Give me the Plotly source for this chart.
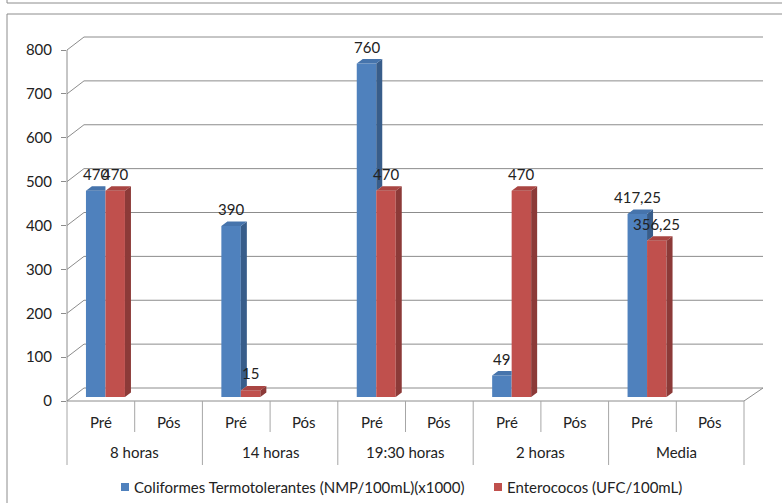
import plotly.graph_objects as go

# ---- data ----
groups = ["8 horas", "14 horas", "19:30 horas", "2 horas", "Media"]
phases = ["Pré", "Pós"]
coliformes = [470, None, 390, None, 760, None, 49, None, 417.25, None]
enterococos = [470, None, 15, None, 470, None, 470, None, 356.25, None]
series_names = ["Coliformes Termotolerantes (NMP/100mL)(x1000)", "Enterococos (UFC/100mL)"]
y_ticks = [0, 100, 200, 300, 400, 500, 600, 700, 800]

# ---- geometry (pixels) ----
W, H = 782, 503
PL, PR, PT, PB = 67, 766, 30, 401          # plot area edges
SLOT = 67.7                                # px per category slot
KY = 0.43875                               # px per value unit
XMAX = (PR - PL) / SLOT
YMAX = (PB - PT) / KY

WALL_DX, WALL_DY = 17, 13                  # depth of the 3D box (px)
BAR_DX, BAR_DY = 6 / SLOT, 4.5 / KY         # bar depth (data units)
BASE = 4 / KY                               # bars sit slightly inside the box
BAR_W = 0.288
OFF_BLUE, OFF_RED = -0.22, 0.068

FONT = "Lato"
FS = 15
TXT = "#222222"
GRID = "#8c8c8c"

BLUE, BLUE_SIDE, BLUE_TOP = "#4F81BD", "#385D8A", "#4674AC"
RED, RED_SIDE, RED_TOP = "#C0504D", "#8C3A38", "#A94542"


def px(xp):
    return (xp - PL) / (PR - PL)


def py(yp):
    return (PB - yp) / (PB - PT)


def ypix(v):
    return PB - v * KY


n = len(coliformes)
centers = [i + 0.5 for i in range(n)]

fig = go.Figure()

# front faces
fig.add_trace(go.Bar(x=centers, y=coliformes, base=BASE, width=BAR_W, offset=OFF_BLUE,
                     marker=dict(color=BLUE, line=dict(width=0)), name=series_names[0],
                     showlegend=False))
fig.add_trace(go.Bar(x=centers, y=enterococos, base=BASE, width=BAR_W, offset=OFF_RED,
                     marker=dict(color=RED, line=dict(width=0)), name=series_names[1],
                     showlegend=False))


def poly_trace(polys, color):
    xs, ys = [], []
    for p in polys:
        for (a, b) in p:
            xs.append(a)
            ys.append(b)
        xs.append(p[0][0])
        ys.append(p[0][1])
        xs.append(None)
        ys.append(None)
    return go.Scatter(x=xs, y=ys, mode="lines", fill="toself", fillcolor=color,
                      line=dict(width=0, color=color), hoverinfo="skip", showlegend=False)


blue_side, blue_top, red_side, red_top = [], [], [], []
for c, vb, vr in zip(centers, coliformes, enterococos):
    if vb is not None:
        xl, xr = c + OFF_BLUE, c + OFF_BLUE + BAR_W
        t = BASE + vb
        lo = BASE + (min(vb, vr) if vr is not None else 0)
        if vr is None or vb > vr:
            blue_side.append([(xr, lo), (xr, t), (xr + BAR_DX, t + BAR_DY), (xr + BAR_DX, lo + BAR_DY)])
            blue_top.append([(xl, t), (xr, t), (xr + BAR_DX, t + BAR_DY), (xl + BAR_DX, t + BAR_DY)])
        else:
            blue_top.append([(xl, t), (xr, t), (xr, t + BAR_DY), (xl + BAR_DX, t + BAR_DY)])
    if vr is not None:
        xl, xr = c + OFF_RED, c + OFF_RED + BAR_W
        t = BASE + vr
        red_side.append([(xr, BASE), (xr, t), (xr + BAR_DX, t + BAR_DY), (xr + BAR_DX, BASE + BAR_DY)])
        red_top.append([(xl, t), (xr, t), (xr + BAR_DX, t + BAR_DY), (xl + BAR_DX, t + BAR_DY)])

fig.add_trace(poly_trace(blue_side, BLUE_SIDE))
fig.add_trace(poly_trace(blue_top, BLUE_TOP))
fig.add_trace(poly_trace(red_side, RED_SIDE))
fig.add_trace(poly_trace(red_top, RED_TOP))

shapes = []


def line(x0, y0, x1, y1, color=GRID, w=1):
    shapes.append(dict(type="line", xref="paper", yref="paper", layer="below",
                       x0=px(x0), y0=py(y0), x1=px(x1), y1=py(y1),
                       line=dict(color=color, width=w)))


# back wall gridlines with the diagonal to the front axis
right_front = PL + n * SLOT
for v in y_ticks:
    yf = ypix(v)
    line(PL, yf, PL + WALL_DX, yf - WALL_DY)
    line(PL + WALL_DX, yf - WALL_DY, right_front + 19, yf - WALL_DY)

# front axis and floor edges
line(PL, ypix(0), PL, ypix(800))
line(PL, ypix(0), right_front, ypix(0))
line(right_front, ypix(0), right_front + 19, ypix(0) - WALL_DY)

# category separators
for i in range(n + 1):
    xx = PL + i * SLOT
    line(xx, PB, xx, 465 if i % 2 == 0 else 432, color="#a6a6a6")

# outer frames
shapes.append(dict(type="rect", xref="paper", yref="paper", x0=px(7), y0=py(14), x1=px(800), y1=py(520),
                   line=dict(color="#8c8c8c", width=1), layer="below"))
shapes.append(dict(type="rect", xref="paper", yref="paper", x0=px(7), y0=py(-20), x1=px(800), y1=py(3),
                   line=dict(color="#8c8c8c", width=1), layer="below"))

annotations = []


def fmt(v):
    return f"{v:g}".replace(".", ",")


def label(x, y, text, xref="paper", yref="paper", xanchor="center", yshift=0):
    annotations.append(dict(x=x, y=y, xref=xref, yref=yref, text=text, showarrow=False,
                            xanchor=xanchor, yanchor="middle", yshift=yshift,
                            font=dict(family=FONT, size=FS, color=TXT)))


# value labels
for c, vb, vr in zip(centers, coliformes, enterococos):
    if vb is not None:
        label(c + OFF_BLUE + BAR_W / 2, BASE + vb, fmt(vb), xref="x", yref="y", yshift=17)
    if vr is not None:
        label(c + OFF_RED + BAR_W / 2, BASE + vr, fmt(vr), xref="x", yref="y", yshift=17)

# two-level category labels
for gi, g in enumerate(groups):
    for pi, ph in enumerate(phases):
        i = gi * 2 + pi
        label(px(PL + (i + 0.5) * SLOT), py(422), ph)
    label(px(PL + (gi * 2 + 1) * SLOT), py(452), g)

# legend
legend_items = [(121, BLUE, series_names[0]), (494, RED, series_names[1])]
for x0, col, name in legend_items:
    shapes.append(dict(type="rect", xref="paper", yref="paper", x0=px(x0), x1=px(x0 + 8),
                       y0=py(491), y1=py(483), fillcolor=col, line=dict(width=0)))
    label(px(x0 + 11), py(487), name, xanchor="left")

fig.update_layout(
    width=W, height=H,
    margin=dict(l=PL, r=W - PR, t=PT, b=H - PB),
    paper_bgcolor="white", plot_bgcolor="rgba(0,0,0,0)",
    barmode="overlay",
    showlegend=False,
    shapes=shapes,
    annotations=annotations,
    font=dict(family=FONT, size=FS, color=TXT),
    xaxis=dict(range=[0, XMAX], visible=False, fixedrange=True),
    yaxis=dict(range=[0, YMAX], tickvals=y_ticks, ticks="outside", ticklen=5, tickcolor=GRID,
               showgrid=False, zeroline=False, showline=False, ticklabelstandoff=6,
               tickfont=dict(family=FONT, size=FS, color=TXT), fixedrange=True),
)

fig.write_html("out.html")
